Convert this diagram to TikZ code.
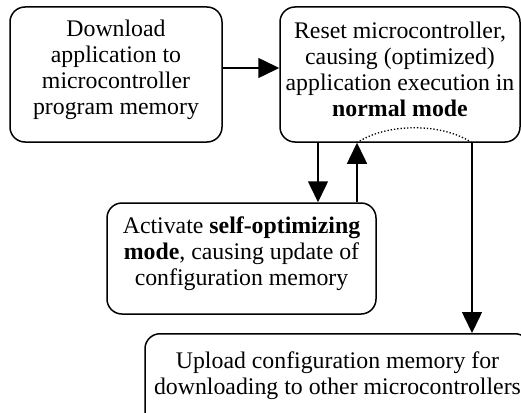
\documentclass[tikz,border=0pt]{standalone}
\usepackage{fontspec}
\setmainfont{Liberation Serif}
\usetikzlibrary{arrows.meta}

\tikzset{
  stepbox/.style={draw, line width=1.5pt, rounded corners=15pt, align=center,
    inner sep=0pt, font=\fontsize{23.8}{26}\selectfont},
  flow/.style={line width=1.5pt, -{Triangle[length=21pt,width=20pt]}}
}

\begin{document}
\begin{tikzpicture}[x=1pt,y=-1pt]
        \useasboundingbox (0,0) rectangle (521,412);
        \clip (0,0) rectangle (521,412);

        % boxes
        \node[stepbox, minimum width=212pt, minimum height=135pt, text depth=15pt] (dl) at (116,74.5)
            {Download\\application to\\microcontroller\\program memory};
        \node[stepbox, minimum width=240pt, minimum height=135pt, text depth=11pt] (rst) at (400,74.5)
            {Reset microcontroller,\\causing (optimized)\\application execution in\\\textbf{normal mode}};
        \node[stepbox, minimum width=269pt, minimum height=111pt, text depth=15pt] (act) at (241.5,258.5)
            {Activate \textbf{self-optimizing}\\\textbf{mode}, causing update of\\configuration memory};
        \node[stepbox, minimum width=385pt, anchor=north, text depth=70pt,
            inner ysep=17.5pt] (upl) at (337.5,333)
            {Upload configuration memory for\\downloading to other microcontrollers};

        % connectors
        \draw[flow] ([yshift=6.5pt]dl.east) -- ([yshift=6.5pt]rst.west);
        \draw[flow] ([xshift=-82pt]rst.south) -- ([xshift=-82pt]rst.south |- act.north);
        \coordinate (back) at ([xshift=-43pt]rst.south);
        \coordinate (out) at ([xshift=72pt]rst.south);
        \draw[flow] (back |- act.north) -- (back);
        \draw[flow] (out) -- (out |- upl.north);
        \draw[dotted, line width=1.3pt] (back) .. controls +(30pt,20pt) and +(-30pt,20pt) .. (out);
    \end{tikzpicture}
\end{document}
